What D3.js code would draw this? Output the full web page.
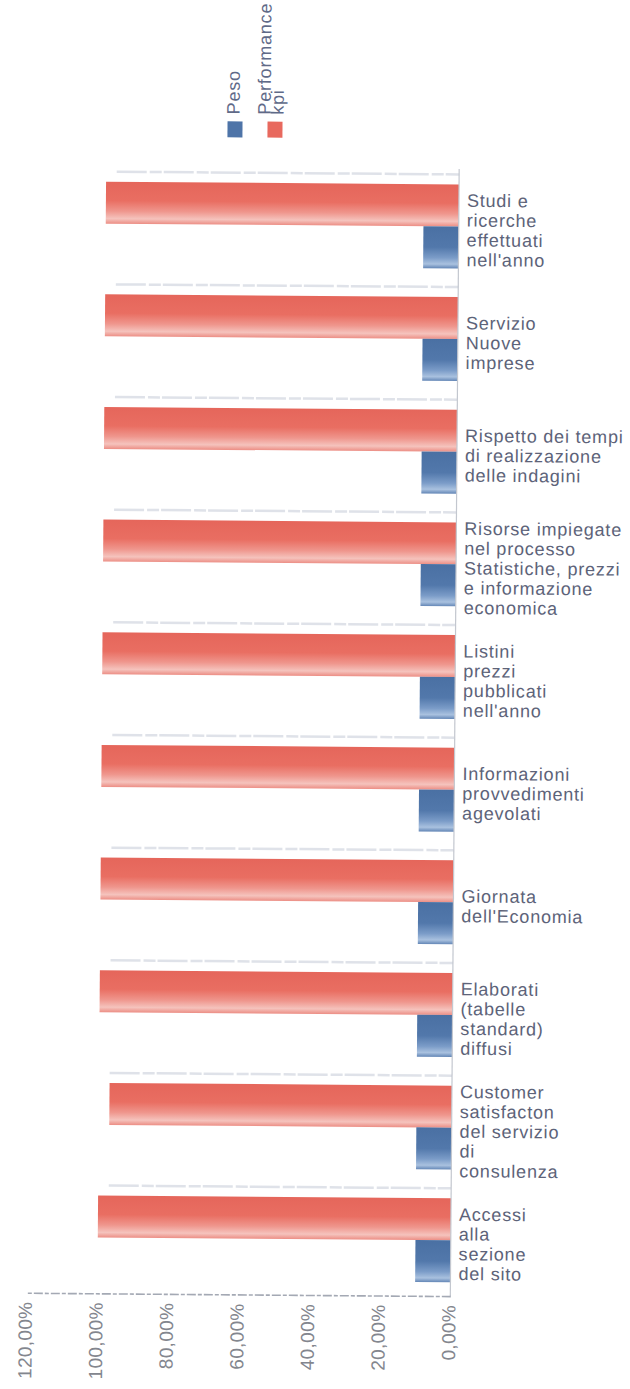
<!DOCTYPE html>
<html>
<head>
<meta charset="utf-8">
<script src="https://cdn.jsdelivr.net/npm/d3@7"></script>
<style>
  html, body { margin: 0; padding: 0; background: #ffffff; }
  svg { display: block; }
</style>
</head>
<body>
<div id="chart"></div>
<script>
// ---- data ----
const categories = [
  ["Studi e", "ricerche", "effettuati", "nell'anno"],
  ["Servizio", "Nuove", "imprese"],
  ["Rispetto dei tempi", "di realizzazione", "delle indagini"],
  ["Risorse impiegate", "nel processo", "Statistiche, prezzi", "e informazione", "economica"],
  ["Listini", "prezzi", "pubblicati", "nell'anno"],
  ["Informazioni", "provvedimenti", "agevolati"],
  ["Giornata", "dell'Economia"],
  ["Elaborati", "(tabelle", "standard)", "diffusi"],
  ["Customer", "satisfacton", "del servizio", "di", "consulenza"],
  ["Accessi", "alla", "sezione", "del sito"]
];
const performanceKpi = [1.00, 1.00, 1.00, 1.00, 1.00, 1.00, 1.00, 1.00, 0.97, 1.00];
const peso = [0.10, 0.10, 0.10, 0.10, 0.10, 0.10, 0.10, 0.10, 0.10, 0.10];
const seriesNames = ["Performance kpi", "Peso"];
const legendLabels = [["Peso"], ["Performance", "kpi"]];
const tickValues = [0, 0.2, 0.4, 0.6, 0.8, 1.0, 1.2];

// ---- setup ----
const W = 630, H = 1389;
const svg = d3.select("#chart").append("svg").attr("width", W).attr("height", H);
const defs = svg.append("defs");

const red = defs.append("linearGradient").attr("id", "gRed").attr("x1", 0).attr("y1", 0).attr("x2", 0).attr("y2", 1);
[["0%", "#e5665b"], ["45%", "#e96e62"], ["70%", "#ef968d"], ["88%", "#f5c3bd"], ["100%", "#ec8e85"]]
  .forEach(s => red.append("stop").attr("offset", s[0]).attr("stop-color", s[1]));
const blue = defs.append("linearGradient").attr("id", "gBlue").attr("x1", 0).attr("y1", 0).attr("x2", 0).attr("y2", 1);
[["0%", "#4a70a3"], ["50%", "#5278ab"], ["75%", "#7b9cc8"], ["90%", "#a9c1df"], ["100%", "#6386b6"]]
  .forEach(s => blue.append("stop").attr("offset", s[0]).attr("stop-color", s[1]));

const root = svg.append("g").attr("transform", "rotate(0.45, 315, 700)");

const x = d3.scaleLinear().domain([0, 1.2]).range([455, 31.4]);
const y = d3.scaleBand().domain(d3.range(categories.length)).range([169, 1295.5])
  .paddingInner(0.2545).paddingOuter(0.127);
const ySub = d3.scaleBand().domain(seriesNames).range([0, y.bandwidth()]);
const color = d3.scaleOrdinal().domain(seriesNames).range(["url(#gRed)", "url(#gBlue)"]);
const swatch = d3.scaleOrdinal().domain(["Peso", "Performance kpi"]).range(["#4e74a8", "#e8695e"]);

// faint category separators
root.append("g").selectAll("line").data(d3.range(categories.length)).join("line")
  .attr("x1", x(0.97)).attr("x2", x(0))
  .attr("y1", i => y(i) - 10).attr("y2", i => y(i) - 10)
  .attr("stroke", "#d8dce4").attr("stroke-width", 2.5).attr("stroke-dasharray", "30 3 12 2")
  .attr("opacity", 0.8);

// bars
const groups = root.append("g").selectAll("g").data(d3.range(categories.length)).join("g")
  .attr("transform", i => `translate(0,${y(i)})`);
groups.selectAll("rect")
  .data(i => [{s: seriesNames[0], v: performanceKpi[i]}, {s: seriesNames[1], v: peso[i]}])
  .join("rect")
  .attr("x", d => x(d.v))
  .attr("width", d => x(0) - x(d.v))
  .attr("y", d => ySub(d.s))
  .attr("height", ySub.bandwidth())
  .attr("fill", d => color(d.s));

// vertical baseline
root.append("line").attr("x1", x(0)).attr("x2", x(0)).attr("y1", 168).attr("y2", 1295)
  .attr("stroke", "#c3c7cf").attr("stroke-width", 1.2);

// category labels
const lineH = 19.8;
root.append("g").selectAll("text").data(d3.range(categories.length)).join("text")
  .attr("x", x(0) + 8)
  .attr("y", i => {
    const n = categories[i].length;
    const c = y(i) + y.bandwidth() / 2 + 3.5;
    return c - (n - 1) * lineH / 2 + 6.5;
  })
  .attr("font-family", "Liberation Sans, Arial, sans-serif")
  .attr("font-size", 18).attr("letter-spacing", 0.8)
  .attr("fill", "#5d6379")
  .each(function(i) {
    const t = d3.select(this);
    categories[i].forEach((ln, k) => {
      t.append("tspan").attr("x", x(0) + 8).attr("dy", k === 0 ? 0 : lineH).text(ln);
    });
  });

// x axis
const locale = d3.formatLocale({decimal: ",", thousands: ".", grouping: [3], currency: ["", "€"]});
const fmt = locale.format(".2%");
const axis = root.append("g").attr("transform", "translate(0,1295)")
  .call(d3.axisBottom(x).tickValues(tickValues).tickFormat(fmt).tickSize(0).tickPadding(0));
axis.select(".domain").attr("stroke", "#a4a9b4").attr("stroke-width", 1.6).attr("stroke-dasharray", "9 2 4 2");
axis.selectAll(".tick text")
  .attr("transform", "translate(0,9) rotate(-90)")
  .attr("text-anchor", "end").attr("x", 0).attr("y", 0).attr("dy", "0.25em")
  .attr("font-family", "Liberation Sans, Arial, sans-serif")
  .attr("font-size", 19).attr("letter-spacing", 0.3)
  .attr("fill", "#83868e");

// legend
const legX = d3.scalePoint().domain(["Peso", "Performance kpi"]).range([230.5, 270.5]);
const leg = root.append("g").selectAll("g").data(["Peso", "Performance kpi"]).join("g")
  .attr("transform", d => `translate(${legX(d)},0)`);
leg.append("rect").attr("x", -7.5).attr("y", 122).attr("width", 15).attr("height", 16)
  .attr("fill", d => swatch(d));
leg.each(function(d, i) {
  const lines = legendLabels[i];
  lines.forEach((ln, k) => {
    const off = 4.5 - (lines.length - 1) * 9 + k * 13;
    d3.select(this).append("text")
      .attr("transform", `translate(${off},115) rotate(-90)`)
      .attr("font-family", "Liberation Sans, Arial, sans-serif")
      .attr("font-size", 18).attr("letter-spacing", 0.8)
      .attr("fill", "#5f6a88")
      .text(ln);
  });
});
</script>
</body>
</html>
